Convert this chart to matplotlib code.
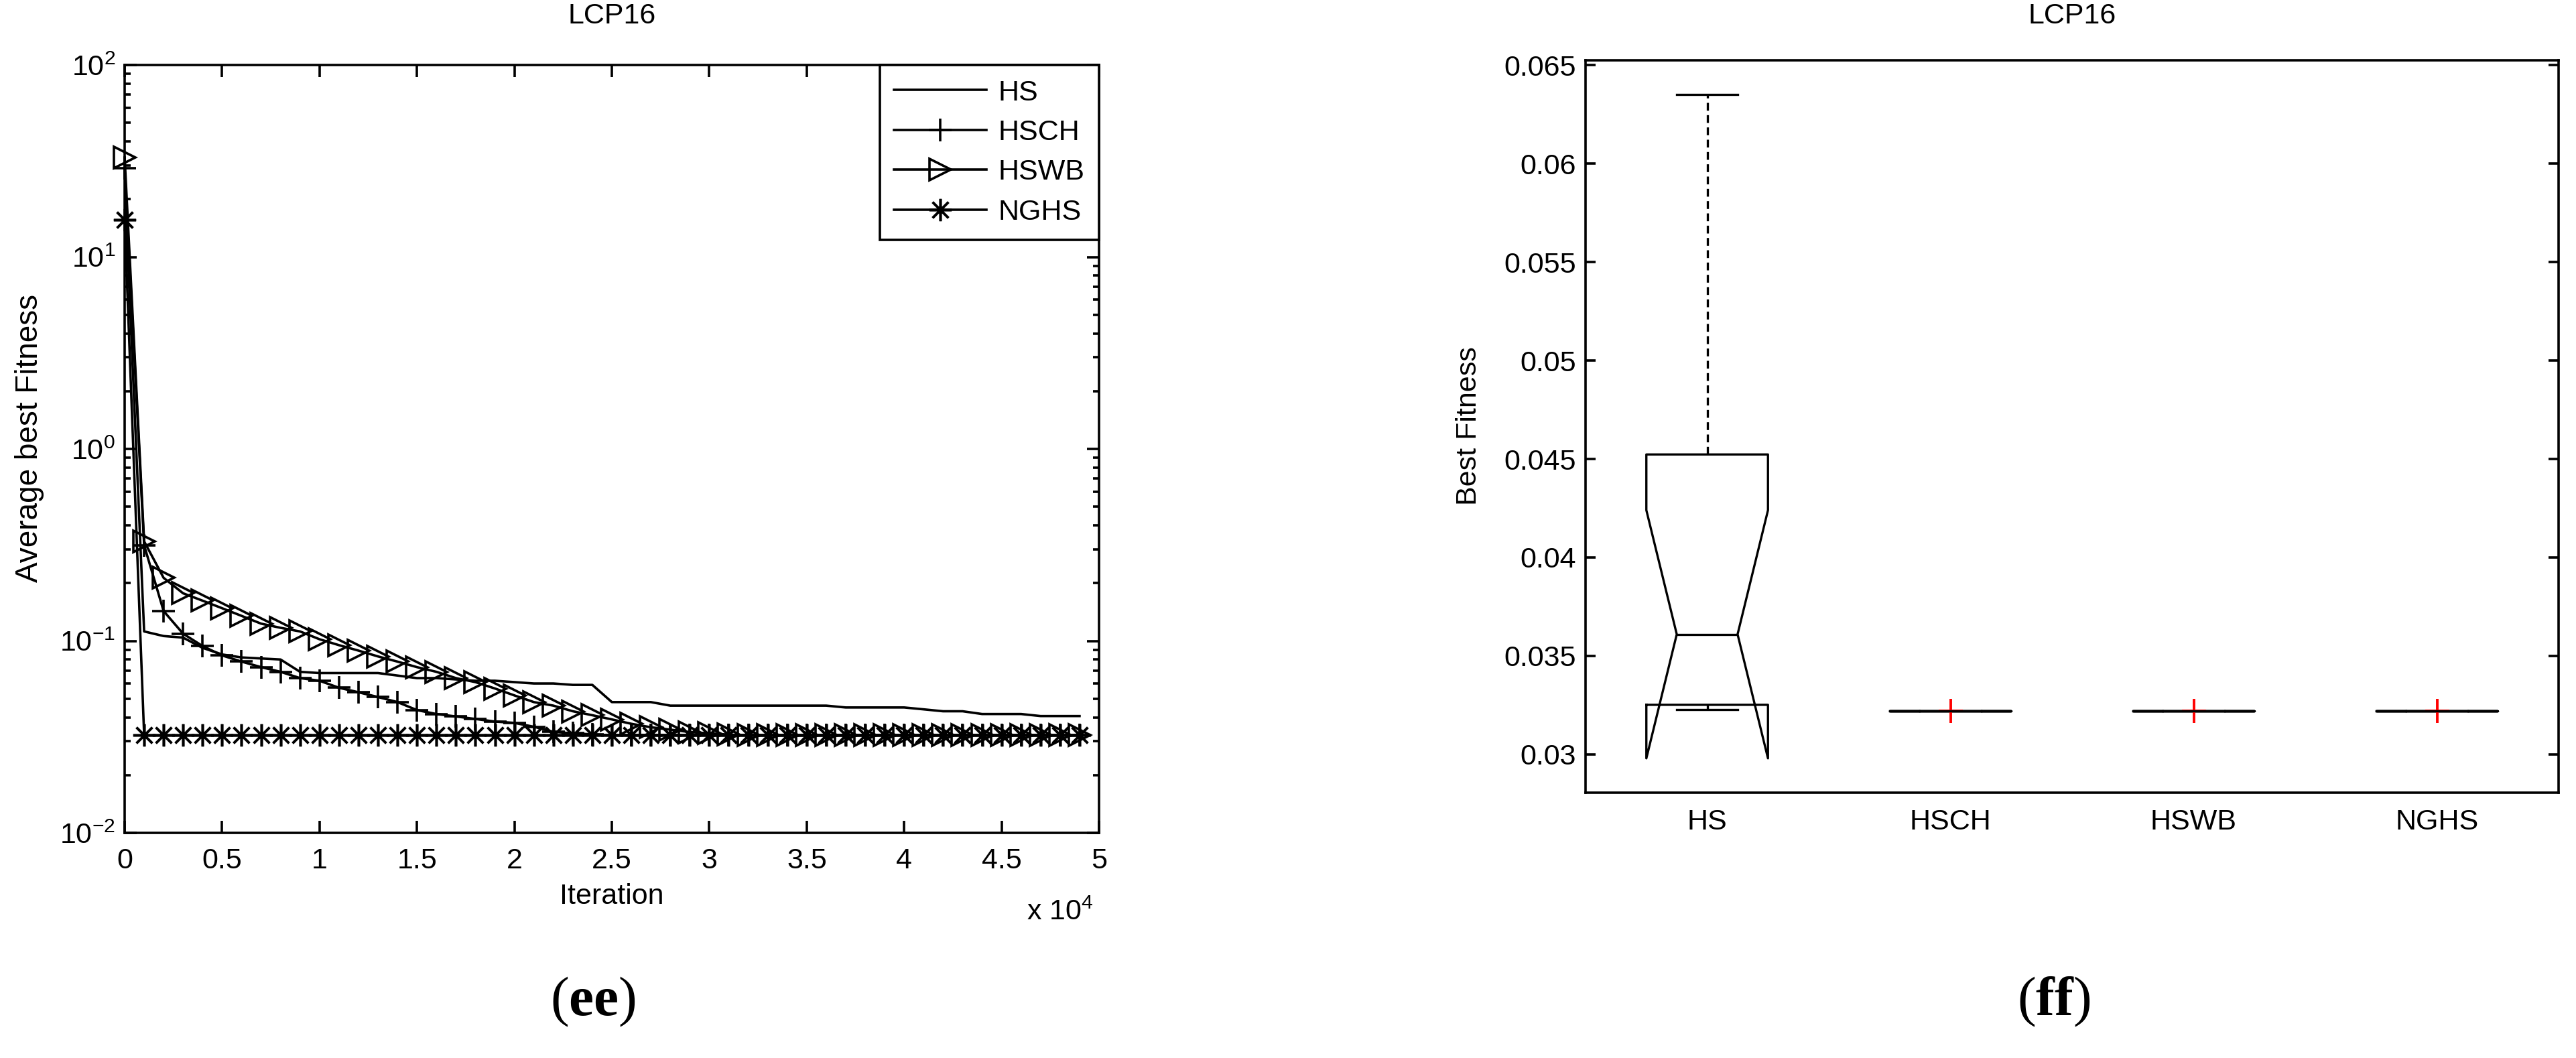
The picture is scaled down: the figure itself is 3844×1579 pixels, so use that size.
import numpy as np
import matplotlib
matplotlib.use("Agg")
import matplotlib.pyplot as plt
from matplotlib.ticker import FixedLocator, FuncFormatter, LogLocator, NullFormatter

plt.rcParams['font.family'] = ['Liberation Sans', 'DejaVu Sans']
plt.rcParams['mathtext.fontset'] = 'custom'
plt.rcParams['mathtext.rm'] = 'Liberation Sans'
plt.rcParams['mathtext.bf'] = 'Liberation Serif:bold'
plt.rcParams['axes.unicode_minus'] = False

# ── (ee) convergence curves, one value every 1000 iterations ────────────────
iterations = np.arange(0, 50000, 1000)
hs = [25.0, 0.112, 0.106, 0.104, 0.092, 0.085, 0.082, 0.081, 0.080, 0.069,
      0.068, 0.068, 0.068, 0.068, 0.066, 0.064, 0.064, 0.063, 0.062, 0.062,
      0.061, 0.060, 0.060, 0.059, 0.059, 0.048, 0.048, 0.048, 0.046, 0.046,
      0.046, 0.046, 0.046, 0.046, 0.046, 0.046, 0.046, 0.045, 0.045, 0.045,
      0.045, 0.044, 0.043, 0.043, 0.0416, 0.0416, 0.0416, 0.0406, 0.0406, 0.0406]
hsch = [29.0, 0.315, 0.143, 0.109, 0.094, 0.084, 0.078, 0.073, 0.069, 0.064,
        0.062, 0.057, 0.054, 0.051, 0.048, 0.0436, 0.0416, 0.0404, 0.0392, 0.038,
        0.0374, 0.0357, 0.0336, 0.033, 0.0326, 0.0322, 0.0322, 0.0322, 0.0322, 0.0322,
        0.0322, 0.0322, 0.0322, 0.0322, 0.0322, 0.0322, 0.0322, 0.0322, 0.0322, 0.0322,
        0.0322, 0.0322, 0.0322, 0.0322, 0.0322, 0.0322, 0.0322, 0.0322, 0.0322, 0.0322]
hswb = [33.0, 0.33, 0.213, 0.177, 0.162, 0.148, 0.135, 0.123, 0.117, 0.112,
        0.102, 0.095, 0.089, 0.083, 0.078, 0.073, 0.069, 0.064, 0.061, 0.0565,
        0.052, 0.048, 0.046, 0.043, 0.041, 0.039, 0.037, 0.0355, 0.0345, 0.0335,
        0.033, 0.0325, 0.0322, 0.0322, 0.0322, 0.0322, 0.0322, 0.0322, 0.0322, 0.0322,
        0.0322, 0.0322, 0.0322, 0.0322, 0.0322, 0.0322, 0.0322, 0.0322, 0.0322, 0.0322]
nghs = [15.6, 0.0322, 0.0322, 0.0322, 0.0322, 0.0322, 0.0322, 0.0322, 0.0322, 0.0322,
        0.0322, 0.0322, 0.0322, 0.0322, 0.0322, 0.0322, 0.0322, 0.0322, 0.0322, 0.0322,
        0.0322, 0.0322, 0.0322, 0.0322, 0.0322, 0.0322, 0.0322, 0.0322, 0.0322, 0.0322,
        0.0322, 0.0322, 0.0322, 0.0322, 0.0322, 0.0322, 0.0322, 0.0322, 0.0322, 0.0322,
        0.0322, 0.0322, 0.0322, 0.0322, 0.0322, 0.0322, 0.0322, 0.0322, 0.0322, 0.0322]
series_names = ['HS', 'HSCH', 'HSWB', 'NGHS']
x_ticks = [0, 5000, 10000, 15000, 20000, 25000, 30000, 35000, 40000, 45000, 50000]

# ── (ff) box plot statistics ────────────────────────────────────────────────
box_labels = ['HS', 'HSCH', 'HSWB', 'NGHS']
box_med = [0.0361, 0.0322, 0.0322, 0.0322]
box_q1 = [0.03252, 0.0322, 0.0322, 0.0322]
box_q3 = [0.04523, 0.0322, 0.0322, 0.0322]
box_whislo = [0.03228, 0.0322, 0.0322, 0.0322]
box_whishi = [0.0635, 0.0322, 0.0322, 0.0322]
box_cilo = [0.0298, 0.0322, 0.0322, 0.0322]
box_cihi = [0.0424, 0.0322, 0.0322, 0.0322]
box_fliers = [[], [0.0322], [0.0322], [0.0322]]
box_yticks = [0.03, 0.035, 0.04, 0.045, 0.05, 0.055, 0.06, 0.065]

FS = 31
LW = 2.6
W, H = 3844, 1579
fig = plt.figure(figsize=(W / 100, H / 100), dpi=100)

# ── left panel ──────────────────────────────────────────────────────────────
ax1 = fig.add_axes([186 / W, 1 - 1243 / H, (1640 - 186) / W, (1243 - 97) / H])
ax1.plot(iterations, hs, color='black', lw=LW, label=series_names[0])
ax1.plot(iterations, hsch, color='black', lw=LW, marker='+', ms=24, mew=LW,
         clip_on=False, label=series_names[1])
ax1.plot(iterations, hswb, color='black', lw=LW, marker='>', ms=23, mew=LW,
         mfc='none', clip_on=False, label=series_names[2])
ax1.plot(iterations, nghs, color='black', lw=LW, marker=(8, 2, 0), ms=24, mew=LW,
         clip_on=False, label=series_names[3])

ax1.set_yscale('log')
ax1.set_ylim(1e-2, 1e2)
ax1.set_xlim(0, 50000)
ax1.xaxis.set_major_locator(FixedLocator(x_ticks))
ax1.xaxis.set_major_formatter(FuncFormatter(lambda v, p: f'{v / 1e4:g}'))
ax1.yaxis.set_major_locator(LogLocator(base=10, numticks=10))
ax1.yaxis.set_minor_locator(LogLocator(base=10, subs=np.arange(2, 10), numticks=10))
ax1.yaxis.set_minor_formatter(NullFormatter())
ax1.tick_params(which='both', direction='in', top=True, right=True, width=LW,
                labelsize=FS)
ax1.tick_params(which='major', length=13)
ax1.tick_params(which='minor', length=6.5)
ax1.tick_params(axis='x', pad=16)
ax1.tick_params(axis='y', pad=10)
for s in ax1.spines.values():
    s.set_linewidth(LW)

leg = ax1.legend(loc='upper right', fontsize=FS, fancybox=False, edgecolor='black',
                 framealpha=1, borderaxespad=0, borderpad=0.5, labelspacing=0.45,
                 handlelength=3.2, handletextpad=0.4)
leg.get_frame().set_linewidth(LW)
leg.set_zorder(5)

cx1 = (186 + 1640) / 2 / W
fig.text(cx1, 1 - 24 / H, 'LCP16', ha='center', va='center', fontsize=FS)
fig.text(cx1, 1 - 1338 / H, 'Iteration', ha='center', va='center', fontsize=FS)
fig.text(1632 / W, 1 - 1362 / H, r'x $\mathdefault{10^{4}}$', ha='right',
         va='center', fontsize=FS)
fig.text(44 / W, 1 - 654 / H, 'Average best Fitness', ha='center', va='center',
         rotation=90, fontsize=33)

# ── right panel ─────────────────────────────────────────────────────────────
ax2 = fig.add_axes([2366 / W, 1 - 1183 / H, (3818 - 2366) / W, (1183 - 90) / H])
stats = []
for i in range(len(box_labels)):
    stats.append(dict(med=box_med[i], q1=box_q1[i], q3=box_q3[i],
                      whislo=box_whislo[i], whishi=box_whishi[i],
                      cilo=box_cilo[i], cihi=box_cihi[i],
                      fliers=box_fliers[i], label=box_labels[i]))
BLW = 2.4
ax2.bxp(stats, positions=[1, 2, 3, 4], widths=0.5, shownotches=True,
        showfliers=True,
        boxprops=dict(color='black', lw=BLW),
        medianprops=dict(color='black', lw=BLW),
        whiskerprops=dict(color='black', lw=BLW, linestyle=(0, (3.5, 2))),
        capprops=dict(color='black', lw=BLW),
        flierprops=dict(marker='+', markeredgecolor='red', markersize=26, mew=2.8))
ax2.set_xlim(0.5, 4.5)
ax2.set_ylim(0.02806, 0.06524)
ax2.set_yticks(box_yticks)
ax2.set_yticklabels([f'{v:g}' for v in box_yticks])
ax2.tick_params(axis='y', direction='in', left=True, right=True, length=11,
                width=LW, labelsize=FS, pad=10)
ax2.tick_params(axis='x', length=0, labelsize=FS, pad=17)
for s in ax2.spines.values():
    s.set_linewidth(LW)

cx2 = (2366 + 3818) / 2 / W
fig.text(cx2, 1 - 24 / H, 'LCP16', ha='center', va='center', fontsize=FS)
fig.text(2192 / W, 1 - 636 / H, 'Best Fitness', ha='center', va='center',
         rotation=90, fontsize=FS)

# panel letters
fig.text(885 / W, 1 - 1495 / H, r'($\mathbf{ee}$)', ha='center', va='center',
         family='Liberation Serif', fontsize=60)
fig.text(3065 / W, 1 - 1495 / H, r'($\mathbf{ff}$)', ha='center', va='center',
         family='Liberation Serif', fontsize=60)

fig.savefig('out.png', dpi=100)
